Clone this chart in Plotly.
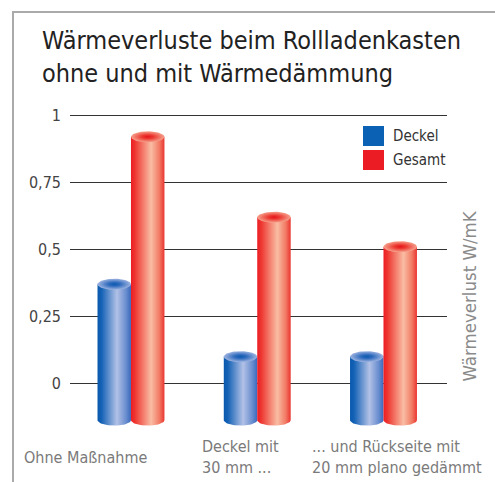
import numpy as np
import plotly.graph_objects as go

# ---------------- data ----------------
categories = ["Ohne Maßnahme", "Deckel mit<br>30 mm ...", "... und Rückseite mit<br>20 mm plano gedämmt"]
series_names = ["Deckel", "Gesamt"]
deckel = [0.37, 0.10, 0.10]
gesamt = [0.92, 0.62, 0.51]
y_tick_vals = [0, 0.25, 0.5, 0.75, 1]
y_tick_text = ["0", "0,25", "0,5", "0,75", "1"]
axis_title = "Wärmeverlust W/mK"
chart_title = "Wärmeverluste beim Rollladenkasten<br>ohne und mit Wärmedämmung"

# ---------------- style ----------------
W, H = 495, 482
ML, MR, MT, MB = 70, 48, 110, 53
X_RANGE = [-0.483, 2.503]
Y_RANGE = [-0.17, 1.02]
FONT = "DejaVu Sans Condensed, Liberation Sans Narrow, Arial Narrow, sans-serif"

CYL_W = 0.265          # cylinder width in x units
BASE = -0.137          # visual foot of the cylinders
PX_PER_Y = (H - MT - MB) / (Y_RANGE[1] - Y_RANGE[0])
RY = 5.5 / PX_PER_Y    # ellipse vertical radius

body_scales = {
    "Deckel": [[0, "#0858ad"], [0.12, "#1462b6"], [0.58, "#b2c1e6"], [0.85, "#6a8ecf"], [1, "#3a69bd"]],
    "Gesamt": [[0, "#ec1c24"], [0.12, "#ee3630"], [0.6, "#f9bda4"], [0.85, "#f27a64"], [1, "#e9352f"]],
}
top_scales = {
    "Deckel": [[0, "#0a5bb0"], [0.35, "#2f6bbd"], [1, "#9db3e0"]],
    "Gesamt": [[0, "#e5141c"], [0.35, "#ec3a32"], [1, "#f6a08c"]],
}
legend_colors = {"Deckel": "#0b62b4", "Gesamt": "#ec1c24"}
label_shift_px = [-109, -57, -73.5]


def px_x(px):
    return (px - ML) / (W - ML - MR)


def px_y(py):
    return (H - MB - py) / (H - MT - MB)


fig = go.Figure()

t_half = np.linspace(0, np.pi, 40)
t_full = np.linspace(0, 2 * np.pi, 80)

for s_idx, (name, values) in enumerate(zip(series_names, [deckel, gesamt])):
    offset = (-0.5 if s_idx == 0 else 0.5) * CYL_W
    for i, v in enumerate(values):
        xc = i + offset
        rx = CYL_W / 2
        x0, x1 = xc - rx, xc + rx
        bx = [x0, x1] + list(xc + rx * np.cos(t_half)) + [x0]
        by = [v, v] + list(BASE - RY * np.sin(t_half)) + [v]
        fig.add_trace(go.Scatter(
            x=bx, y=by, mode="lines", fill="toself",
            line=dict(width=0, color="rgba(0,0,0,0)"),
            fillgradient=dict(type="horizontal", colorscale=body_scales[name]),
            showlegend=False, hoverinfo="skip",
        ))
        ex = list(xc + rx * np.cos(t_full))
        ey = list(v + RY * np.sin(t_full))
        fig.add_trace(go.Scatter(
            x=ex, y=ey, mode="lines", fill="toself",
            line=dict(width=0, color="rgba(0,0,0,0)"),
            fillgradient=dict(type="radial", colorscale=top_scales[name]),
            showlegend=False, hoverinfo="skip",
        ))

shapes = [
    # frame lines
    dict(type="line", xref="paper", yref="paper", x0=px_x(13), x1=px_x(13), y0=px_y(11), y1=px_y(H + 5),
         line=dict(color="#aaaaaa", width=2)),
    dict(type="line", xref="paper", yref="paper", x0=px_x(12), x1=px_x(W + 5), y0=px_y(12), y1=px_y(12),
         line=dict(color="#aaaaaa", width=2)),
]
annotations = []
leg_y = [136, 160]
for k, name in enumerate(series_names):
    shapes.append(dict(type="rect", xref="paper", yref="paper",
                       x0=px_x(363), x1=px_x(384), y0=px_y(leg_y[k] - 10), y1=px_y(leg_y[k] + 10),
                       fillcolor=legend_colors[name], line=dict(width=0)))
    annotations.append(dict(text=name, xref="paper", yref="paper", x=px_x(391), y=px_y(leg_y[k]),
                            xanchor="left", yanchor="middle", showarrow=False,
                            font=dict(family=FONT, size=15, color="#333333")))

for i, lab in enumerate(categories):
    annotations.append(dict(text=lab, xref="x", yref="paper", x=i, xshift=label_shift_px[i],
                            y=px_y(457), xanchor="left", yanchor="middle", align="left",
                            showarrow=False, font=dict(family=FONT, size=16, color="#7a7a7a")))

annotations.append(dict(text=axis_title, xref="paper", yref="paper", x=px_x(469), y=px_y(296.5),
                        xanchor="center", yanchor="middle", textangle=-90, showarrow=False,
                        font=dict(family=FONT, size=18.5, color="#8a8a8a")))

fig.update_layout(
    width=W, height=H,
    margin=dict(l=ML, r=MR, t=MT, b=MB, pad=0),
    paper_bgcolor="white", plot_bgcolor="white",
    showlegend=False,
    title=dict(text=chart_title, x=42 / W, xanchor="left", xref="container",
               y=1 - 49 / H, yanchor="top", yref="container",
               font=dict(family=FONT, size=25, color="#222222")),
    xaxis=dict(range=X_RANGE, showgrid=False, zeroline=False, showticklabels=False, ticks="",
               showline=False, fixedrange=True),
    yaxis=dict(range=Y_RANGE, tickvals=y_tick_vals, ticktext=y_tick_text, showgrid=True,
               gridcolor="#333333", gridwidth=1.5, zeroline=False, showline=False, ticks="",
               ticklabelstandoff=8, fixedrange=True,
               tickfont=dict(family=FONT, size=16, color="#444444")),
    shapes=shapes,
    annotations=annotations,
)

fig.write_html("out.html", config={"displayModeBar": False, "staticPlot": True},
               post_script="document.body.style.margin='0px';document.body.style.overflow='hidden';")
